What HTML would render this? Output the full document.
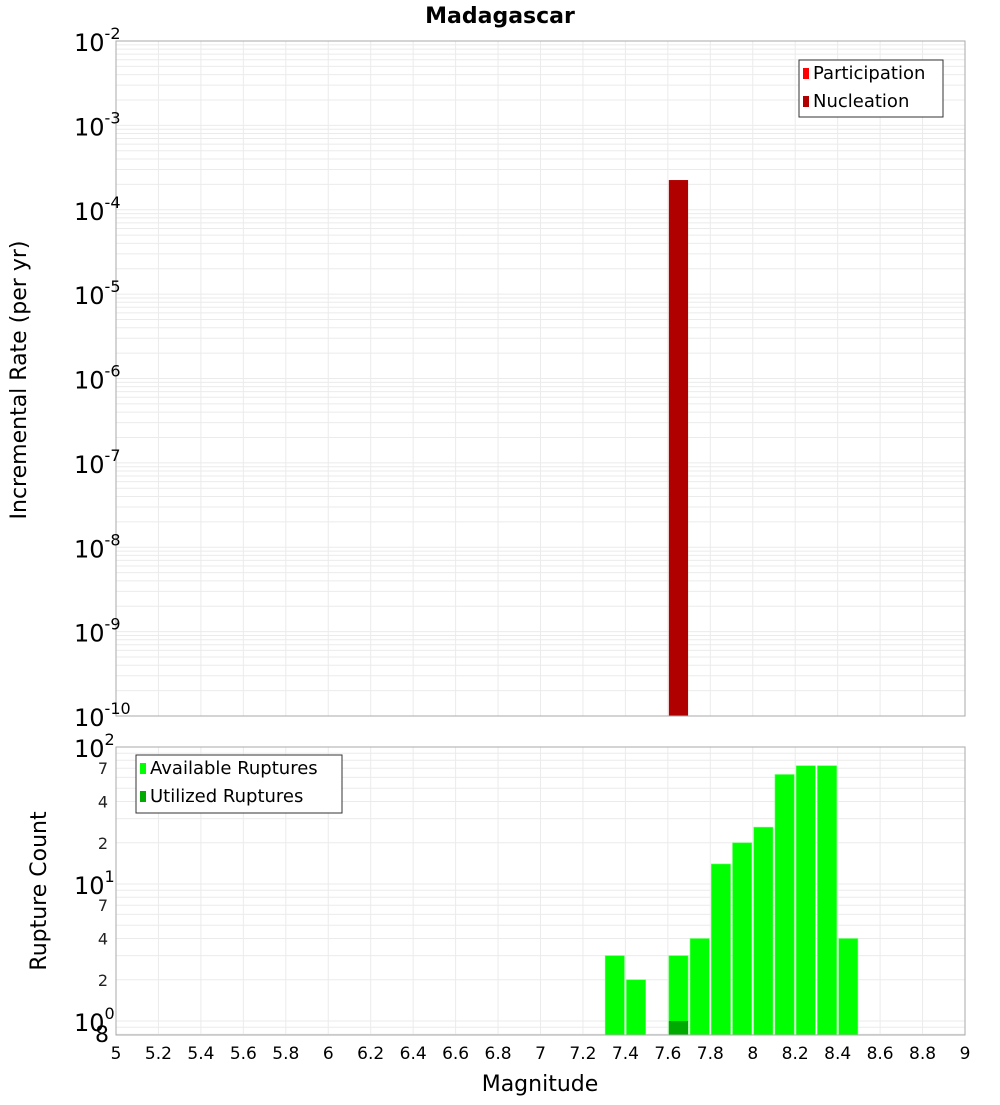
<!DOCTYPE html>
<html><head><meta charset="utf-8"><style>
body{margin:0;background:#fff;}
svg{font-family:"DejaVu Sans","Liberation Sans",sans-serif;}
</style></head><body>
<svg id="c" width="1000" height="1100" xmlns="http://www.w3.org/2000/svg"></svg>
<script>
const rateMags=[7.65];
const nucleationRates=[2.25e-4];
const countMags=[7.35,7.45,7.65,7.75,7.85,7.95,8.05,8.15,8.25,8.35,8.45];
const availableCounts=[3,2,3,4,14,20,26,63,73,73,4];
const utilizedMags=[7.65];
const utilizedCounts=[1];
const xTicks=[5,5.2,5.4,5.6,5.8,6,6.2,6.4,6.6,6.8,7,7.2,7.4,7.6,7.8,8,8.2,8.4,8.6,8.8,9];
const topDecades=[-10,-9,-8,-7,-6,-5,-4,-3,-2];
const botMinorLabels=[2,4,7,20,40,70];

const svg=document.getElementById('c');
const NS='http://www.w3.org/2000/svg';
function mk(tag,attrs,parent){const e=document.createElementNS(NS,tag);for(const k in attrs)e.setAttribute(k,attrs[k]);(parent||svg).appendChild(e);return e;}
const L=116,R=965;
const x=v=>L+(v-5)/(9-5)*(R-L);
const T1=41,B1=716;
const yTop=v=>T1+(-2-Math.log10(v))/8*(B1-T1);
const T2=747,B2=1035,dec2=137;
const yBot=v=>T2+(2-Math.log10(v))*dec2;

// title
let t=mk('text',{x:500,y:23,'text-anchor':'middle','font-size':22,'font-weight':'bold'});t.textContent='Madagascar';


// top plot grid
let g=mk('g',{});
for(let d=-10;d<-2;d++){for(let m=1;m<10;m++){const yy=yTop(m*Math.pow(10,d));mk('line',{x1:L,x2:R,y1:yy,y2:yy,stroke:'#ebebeb','stroke-width':1},g);}}
xTicks.forEach(v=>mk('line',{x1:x(v),x2:x(v),y1:T1,y2:B1,stroke:'#ebebeb'},g));
// bottom grid
let g2=mk('g',{});
[0.8,0.9,1,2,3,4,5,6,7,8,9,10,20,30,40,50,60,70,80,90].forEach(v=>{const yy=yBot(v);mk('line',{x1:L,x2:R,y1:yy,y2:yy,stroke:'#ebebeb'},g2);});
xTicks.forEach(v=>mk('line',{x1:x(v),x2:x(v),y1:T2,y2:B2,stroke:'#ebebeb'},g2));

// top bars
const bw=(R-L)/40;
rateMags.forEach((m,i)=>{const yy=yTop(nucleationRates[i]);const r=mk('rect',{x:x(m)-bw/2+1,y:yy,width:bw-2,height:B1-yy,fill:'#b00000'});
});
// bottom bars
countMags.forEach((m,i)=>{const yy=yBot(availableCounts[i]);const r=mk('rect',{x:x(m)-bw/2+1,y:yy,width:bw-2,height:B2-yy,fill:'#00ff00',stroke:'#66ff66','stroke-width':0.6});
});
utilizedMags.forEach((m,i)=>{const yy=yBot(utilizedCounts[i]);const r=mk('rect',{x:x(m)-bw/2+1,y:yy,width:bw-2,height:B2-yy,fill:'#00aa00'});
});

// frames
let f1=mk('rect',{x:L,y:T1,width:R-L,height:B1-T1,fill:'none',stroke:'#aaa'});
let f2=mk('rect',{x:L,y:T2,width:R-L,height:B2-T2,fill:'none',stroke:'#aaa'});

// top y ticks
topDecades.forEach(d=>{const yy=yTop(Math.pow(10,d));const tt=mk('text',{x:74,y:yy+10,'font-size':24});tt.innerHTML='10<tspan dy="-12" font-size="16">'+d+'</tspan>';
});
// bottom y ticks
[0,1,2].forEach(d=>{const yy=yBot(Math.pow(10,d));const tt=mk('text',{x:74,y:yy+10,'font-size':24});tt.innerHTML='10<tspan dy="-12" font-size="16">'+d+'</tspan>';
});
botMinorLabels.forEach(v=>{const yy=yBot(v);const tt=mk('text',{x:103,y:yy+6,'font-size':16,'text-anchor':'middle',fill:'#222'});tt.textContent=String(v).charAt(0);
});
let e8=mk('text',{x:102,y:1042,'font-size':22,'text-anchor':'middle'});e8.textContent='8';

// x ticks
xTicks.forEach(v=>{const tt=mk('text',{x:x(v),y:1059,'font-size':17,'text-anchor':'middle'});tt.textContent=String(+v.toFixed(1));
});
let xt=mk('text',{x:540,y:1091,'font-size':22,'text-anchor':'middle'});xt.textContent='Magnitude';
let yt=mk('text',{x:0,y:0,'font-size':22,'text-anchor':'middle',transform:'translate(26,380) rotate(-90)'});yt.textContent='Incremental Rate (per yr)';
let yt2=mk('text',{x:0,y:0,'font-size':22,'text-anchor':'middle',transform:'translate(46,891) rotate(-90)'});yt2.textContent='Rupture Count';

// legends
function legend(name,bx,by,w,h,items){const lg=mk('g',{});
mk('rect',{x:bx,y:by,width:w,height:h,fill:'#fff',stroke:'#333'},lg);
items.forEach((it,i)=>{const cy=by+13+i*28;mk('rect',{x:bx+4,y:cy-5,width:6,height:11,fill:it[1]},lg);const tx=mk('text',{x:bx+14,y:cy+6,'font-size':18},lg);tx.textContent=it[0];});}
legend('rate-legend',799,60,144,57,[['Participation','#ff0000'],['Nucleation','#b00000']]);
legend('count-legend',136,755,206,58,[['Available Ruptures','#00ff00'],['Utilized Ruptures','#00aa00']]);
</script>
</body></html>
